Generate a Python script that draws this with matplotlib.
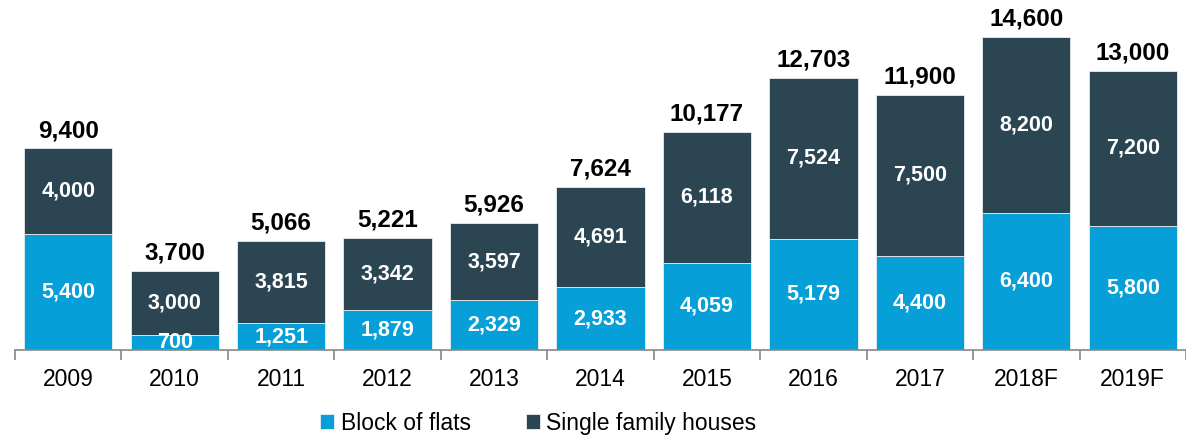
import matplotlib
matplotlib.use('Agg')
import matplotlib.pyplot as plt
import numpy as np

years = ["2009", "2010", "2011", "2012", "2013", "2014", "2015", "2016", "2017", "2018F", "2019F"]
flats = [5400, 700, 1251, 1879, 2329, 2933, 4059, 5179, 4400, 6400, 5800]
houses = [4000, 3000, 3815, 3342, 3597, 4691, 6118, 7524, 7500, 8200, 7200]

c_flats = '#079fd8'
c_houses = '#2b4652'

plt.rcParams['font.family'] = ['Liberation Sans', 'DejaVu Sans']

fig = plt.figure(figsize=(11.86, 4.37), dpi=100)
ax = fig.add_axes([15 / 1186, 87 / 437, 1171 / 1186, 343 / 437])

x = np.arange(len(years))
w = 0.83
ax.bar(x, flats, w, color=c_flats, edgecolor='#e8eef0', linewidth=0.6, label='Block of flats')
ax.bar(x, houses, w, bottom=flats, color=c_houses, edgecolor='#e8eef0', linewidth=0.6,
       label='Single family houses')

for i in range(len(years)):
    f, h = flats[i], houses[i]
    ax.text(x[i], f / 2, f"{f:,}", ha='center', va='center', color='white',
            fontsize=15.5, fontweight='bold')
    ax.text(x[i], f + h / 2, f"{h:,}", ha='center', va='center', color='white',
            fontsize=15.5, fontweight='bold')
    ax.text(x[i], f + h + 300, f"{f + h:,}", ha='center', va='bottom', color='black',
            fontsize=17.5, fontweight='bold')

ax.set_xlim(-0.5, len(years) - 0.5)
ax.set_ylim(0, 16000)
ax.set_yticks([])
for s in ['top', 'right', 'left']:
    ax.spines[s].set_visible(False)
ax.spines['bottom'].set_color('#888888')
ax.spines['bottom'].set_linewidth(1.2)

# boundary ticks between categories, labels centred under each bar
ax.set_xticks(np.arange(-0.5, len(years), 1.0))
ax.set_xticklabels([])
ax.tick_params(axis='x', which='major', length=7, color='#888888', width=1.2)
ax.set_xticks(x, minor=True)
ax.set_xticklabels(years, minor=True, fontsize=16.5)
ax.tick_params(axis='x', which='minor', length=0, pad=13)

ax.legend(loc='upper center', bbox_to_anchor=(0.447, -0.18), ncol=2, frameon=False,
          fontsize=16.5, handlelength=0.6, handleheight=0.6, handletextpad=0.3,
          columnspacing=2.4, borderaxespad=0, borderpad=0)

fig.savefig('out.png', dpi=100)
